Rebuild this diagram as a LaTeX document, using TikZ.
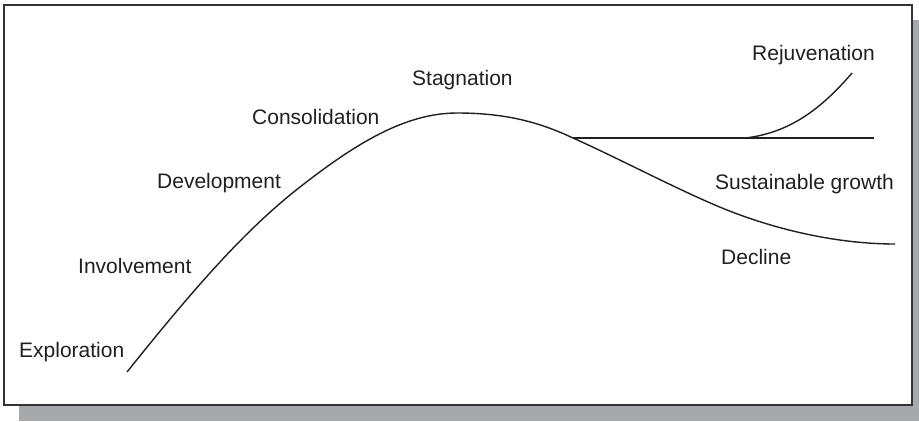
\documentclass[tikz,border=0pt]{standalone}
\usepackage{fontspec}
\setmainfont{Liberation Sans}
\definecolor{shadowgray}{RGB}{167,168,172}
\definecolor{ink}{RGB}{35,31,32}
\begin{document}
\begin{tikzpicture}[x=1pt,y=-1pt,
  lbl/.style={anchor=base west,inner sep=0pt,text=ink,font=\fontsize{21}{25}\selectfont},
  curve/.style={draw=ink,line width=1.4pt}]
\useasboundingbox (0,0) rectangle (919,421);
% shadow and frame
\fill[shadowgray] (19,20) rectangle (919,421);
\draw[fill=white,draw=black!80,line width=1.3pt] (4,5) rectangle (912,405);
% labels
\node[lbl] (expl) at (19,357) {Exploration};
\node[lbl] (inv) at (78,273) {Involvement};
\node[lbl] (dev) at (157,188) {Development};
\node[lbl] (cons) at (252,124) {Consolidation};
\node[lbl] (stag) at (412,85) {Stagnation};
\node[lbl] (rej) at (752,60) {Rejuvenation};
\node[lbl] (sus) at (715,189) {Sustainable growth};
\node[lbl] (dec) at (721,264) {Decline};
% curves
\coordinate (start) at (127,372);
\coordinate (peak) at (457,113);
\coordinate (split) at (573,138);
\coordinate (hend) at (874,138);
\coordinate (rstart) at (745,138);
\coordinate (rend) at (852,73);
\coordinate (dend) at (895,244);
\draw[curve] (start) .. controls (195,287) and (245,230) .. (300,187)
  .. controls (355,144) and (405,113) .. (peak)
  .. controls (510,113) and (543,124) .. (split)
  .. controls (620,159) and (682,192) .. (727,210)
  .. controls (780,231) and (840,244) .. (dend);
\draw[curve] (split) -- (hend);
\draw[curve] (rstart) .. controls (790,133) and (822,108) .. (rend);
\end{tikzpicture}
\end{document}
